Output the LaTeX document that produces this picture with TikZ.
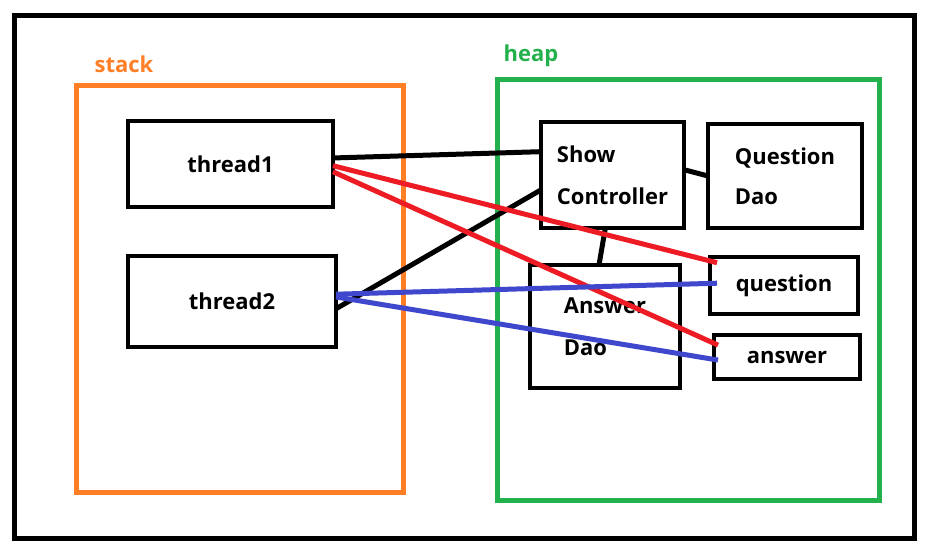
\documentclass[tikz,border=0pt]{standalone}
\usepackage{fontspec}
\setmainfont{Open Sans}
\usepackage{tikz}
\usetikzlibrary{calc}

\definecolor{stackorange}{HTML}{FF7F27}
\definecolor{heapgreen}{HTML}{22B14C}
\definecolor{refred}{HTML}{ED1C24}
\definecolor{refblue}{HTML}{3F48CC}

\begin{document}
\begin{tikzpicture}[x=0.02cm, y=-0.02cm,
    every node/.style={font=\bfseries\fontsize{12.5}{15}\selectfont},
    obj/.style={draw, line width=0.09cm, outer sep=0pt, inner sep=0pt, align=left},
    link/.style={line width=0.1cm}]
\useasboundingbox[fill=white] (0,0) rectangle (938,546);
\draw[line width=0.1cm] (14.5,15.5) rectangle (914.5,538.5);
% regions
\draw[stackorange, line width=0.1cm] (76.5,85.5) rectangle (403,493);
\node[text=stackorange] (stacklabel) at (124,64) {stack};
\draw[heapgreen, line width=0.1cm] (497.5,80) rectangle (879.5,501);
\node[text=heapgreen] (heaplabel) at (531,56) {heap};
% objects
\begin{scope}
    \node[obj, minimum width=4.1cm, minimum height=1.72cm] (thread1) at (230.5,164) {thread1};
    \node[obj, minimum width=4.16cm, minimum height=1.82cm] (thread2) at (232,301.5) {thread2};
    \node[obj, minimum width=2.86cm, minimum height=2.12cm] (ctrl) at (612.5,175) {Show\\[9pt]Controller};
    \node[obj, minimum width=3.08cm, minimum height=2.08cm] (qdao) at (785,176) {Question\\[8pt]Dao};
    \node[obj, minimum width=3.0cm, minimum height=2.46cm] (adao) at (605,326.5) {Answer\\[9pt]Dao};
    \node[obj, minimum width=2.96cm, minimum height=1.14cm] (question) at (784,285.5) {question};
    \node[obj, minimum width=2.92cm, minimum height=0.88cm] (answer) at (787,357) {answer};
\end{scope}
% references
\draw[link] ($(thread1.north east)!0.43!(thread1.south east)$) -- ($(ctrl.north west)!0.28!(ctrl.south west)$);
\draw[link] ($(thread2.north east)!0.58!(thread2.south east)$) -- ($(ctrl.north west)!0.64!(ctrl.south west)$);
\draw[link] ($(ctrl.north east)!0.45!(ctrl.south east)$) -- (qdao.west);
\draw[link] ($(ctrl.south west)!0.45!(ctrl.south east)$) -- ($(adao.north west)!0.46!(adao.north east)$);
\draw[link, refred] ($(thread1.north east)!0.52!(thread1.south east)$) -- ([xshift=0.14cm]$(question.north west)!0.1!(question.south west)$);
\draw[link, refred] ($(thread1.north east)!0.59!(thread1.south east)$) -- ([xshift=0.08cm]$(answer.north west)!0.23!(answer.south west)$);
\draw[link, refblue] ($(thread2.north east)!0.42!(thread2.south east)$) -- ([xshift=0.14cm]$(question.north west)!0.46!(question.south west)$);
\draw[link, refblue] ($(thread2.north east)!0.45!(thread2.south east)$) -- ([xshift=0.08cm]$(answer.north west)!0.57!(answer.south west)$);
\end{tikzpicture}
\end{document}
